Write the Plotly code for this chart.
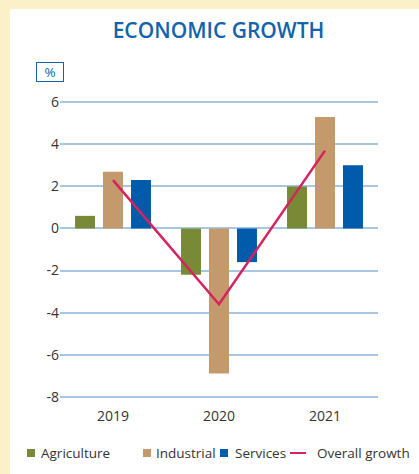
import plotly.graph_objects as go

years = ["2019", "2020", "2021"]
agriculture = [0.6, -2.2, 2.0]
industrial = [2.7, -6.9, 5.3]
services = [2.3, -1.6, 3.0]
overall = [2.3, -3.6, 3.7]
y_ticks = [6, 4, 2, 0, -2, -4, -6, -8]

W, H = 419, 474
L, R, T, B = 60, 378, 101, 398  # plot area in pixels

def px(x):
    return (x - L) / (R - L)

def py(y):
    return (B - y) / (B - T)

FONT = "Open Sans"
TXT = "#333333"
C_AGR = "#788A35"
C_IND = "#C4996B"
C_SER = "#005BAA"
C_LINE = "#D6225E"
BLUE = "#1262AC"

fig = go.Figure()
fig.add_trace(go.Bar(x=years, y=agriculture, name="Agriculture", marker_color=C_AGR, marker_line_width=0))
fig.add_trace(go.Bar(x=years, y=industrial, name="Industrial", marker_color=C_IND, marker_line_width=0))
fig.add_trace(go.Bar(x=years, y=services, name="Services", marker_color=C_SER, marker_line_width=0))
fig.add_trace(go.Scatter(x=years, y=overall, name="Overall growth", mode="lines",
                         line=dict(color=C_LINE, width=2.5)))

shapes = [
    dict(type="rect", xref="paper", yref="paper", x0=px(10), x1=px(430), y0=py(9), y1=py(480),
         fillcolor="white", line_width=0, layer="below"),
    dict(type="rect", xref="paper", yref="paper", x0=px(27), x1=px(35), y0=py(457), y1=py(449),
         fillcolor=C_AGR, line_width=0),
    dict(type="rect", xref="paper", yref="paper", x0=px(143), x1=px(151), y0=py(457), y1=py(449),
         fillcolor=C_IND, line_width=0),
    dict(type="rect", xref="paper", yref="paper", x0=px(220), x1=px(228), y0=py(457), y1=py(449),
         fillcolor=C_SER, line_width=0),
    dict(type="line", xref="paper", yref="paper", x0=px(290), x1=px(306), y0=py(453), y1=py(453),
         line=dict(color=C_LINE, width=2)),
]

annotations = [
    dict(text="%", xref="paper", yref="paper", x=px(50), y=py(72), xanchor="center", yanchor="middle",
         showarrow=False, font=dict(family=FONT, size=13.5, color=BLUE),
         bordercolor=BLUE, borderwidth=1, borderpad=0, width=26, height=18),
]
for label, xx in [("Agriculture", 40), ("Industrial", 155), ("Services", 234), ("Overall growth", 316)]:
    annotations.append(dict(text=label, xref="paper", yref="paper", x=px(xx), y=py(453),
                            xanchor="left", yanchor="middle", showarrow=False, borderpad=0,
                            font=dict(family=FONT, size=13.5, color=TXT)))

fig.update_layout(
    width=W, height=H,
    margin=dict(l=L, r=W - R, t=T, b=H - B),
    paper_bgcolor="#FCF0C8",
    plot_bgcolor="rgba(0,0,0,0)",
    barmode="group",
    bargap=0.208,
    bargroupgap=0.286,
    showlegend=False,
    title=dict(text="ECONOMIC GROWTH", x=218.5 / W, y=1 - 30.5 / H, xref="container", yref="container",
               xanchor="center", yanchor="middle",
               font=dict(family=FONT, size=21, color=BLUE, weight=600)),
    font=dict(family=FONT, size=14, color=TXT),
    shapes=shapes,
    annotations=annotations,
    xaxis=dict(showgrid=False, zeroline=False, showline=False, ticks="", ticklabelstandoff=8,
               tickfont=dict(family=FONT, size=14, color=TXT)),
    yaxis=dict(range=[-8.06, 6.06], tickvals=y_ticks, ticktext=[str(v) for v in y_ticks],
               showgrid=True, gridcolor="#A9C6E0", gridwidth=1.5, zeroline=False, showline=False,
               ticks="", tickfont=dict(family=FONT, size=14, color=TXT)),
)

fig.write_html("out.html")
